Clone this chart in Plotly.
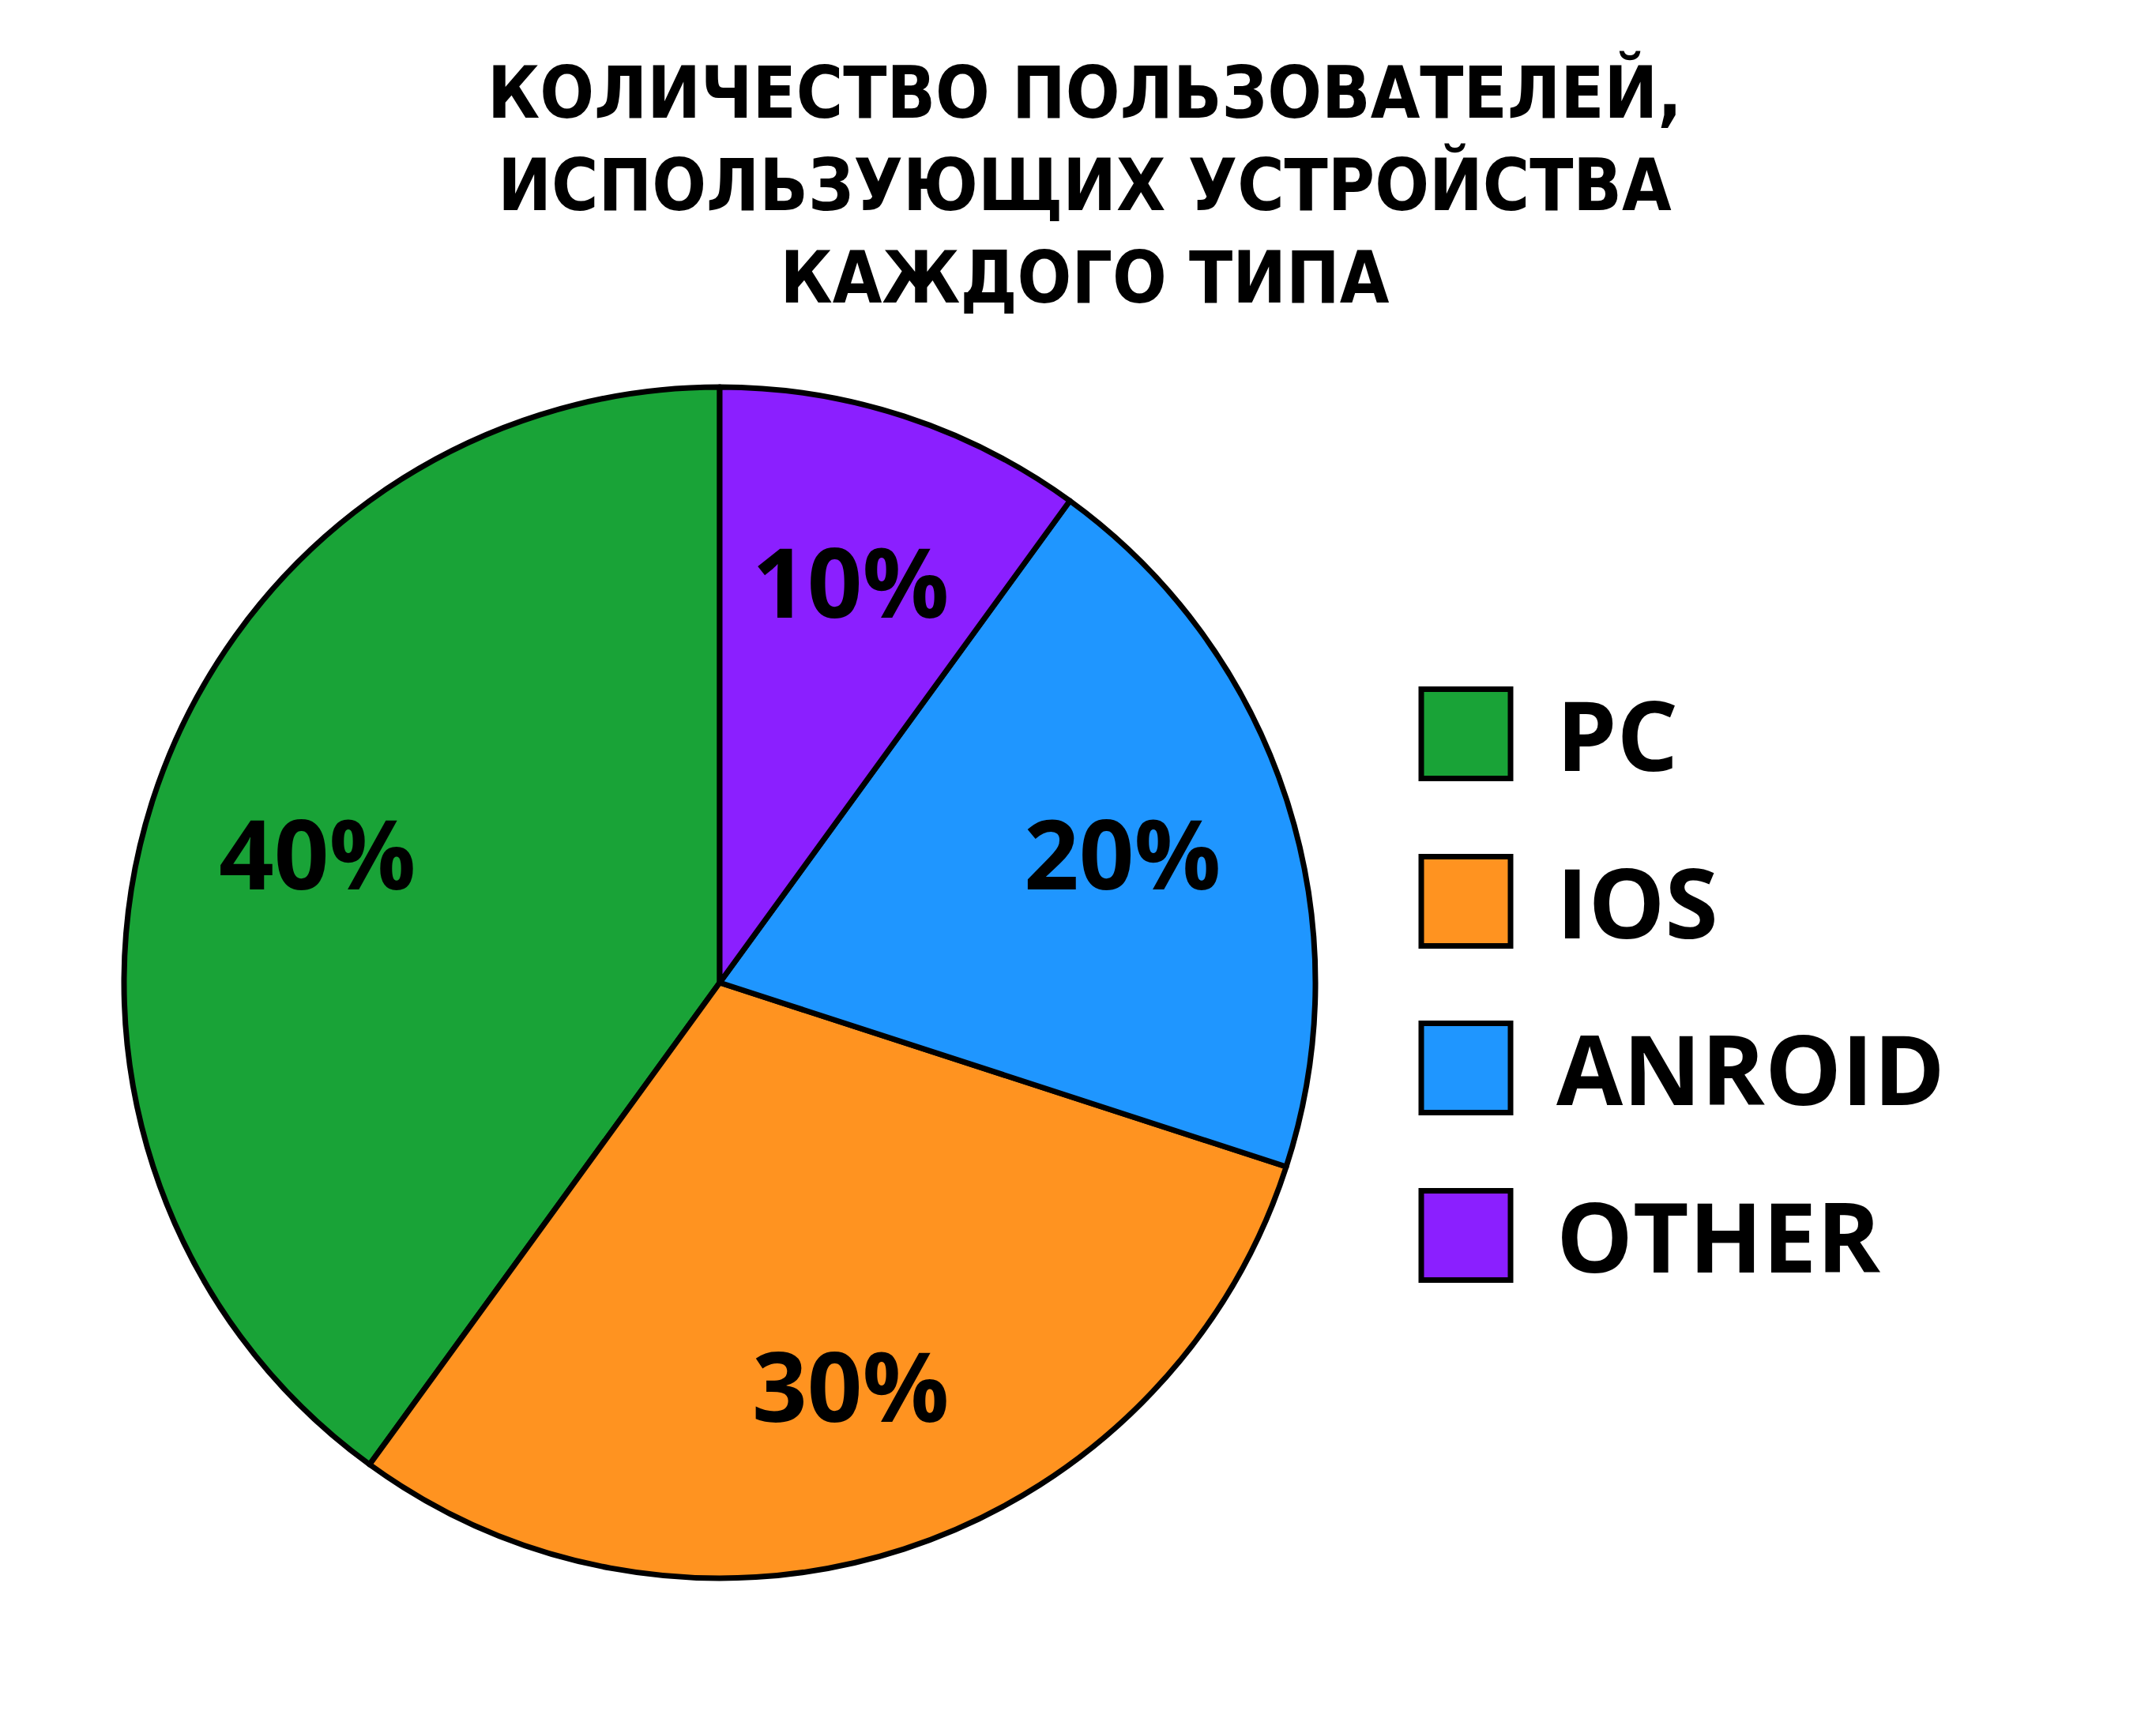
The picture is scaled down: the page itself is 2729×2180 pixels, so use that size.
import math
import plotly.graph_objects as go

# ---- data ----
labels = ["PC", "IOS", "ANROID", "OTHER"]
values = [40, 30, 20, 10]
colors = ["#19a337", "#ff9320", "#1f96ff", "#8b1fff"]
title_lines = ["КОЛИЧЕСТВО ПОЛЬЗОВАТЕЛЕЙ,", "ИСПОЛЬЗУЮЩИХ УСТРОЙСТВА", "КАЖДОГО ТИПА"]

W, H = 2729, 2180
# pie geometry (pixels)
cx, cy, R = 903, 1236, 754
dom_x = [(cx - R) / W, (cx + R) / W]
dom_y = [(H - cy - R) / H, (H - cy + R) / H]

LABEL_FONT = dict(family="Open Sans, DejaVu Sans, sans-serif", size=122, color="black", weight=700)

total = sum(values)
# plotly's counterclockwise mode places the first slice clockwise of the start angle;
# rotate so that the first slice starts at 12 o'clock and runs counterclockwise
rotation = -360 * values[0] / total

fig = go.Figure()
fig.add_trace(go.Pie(
    labels=labels, values=values, sort=False,
    direction="counterclockwise", rotation=rotation,
    marker=dict(colors=colors, line=dict(color="black", width=7)),
    textinfo="none", hoverinfo="label+percent",
    domain=dict(x=dom_x, y=dom_y), showlegend=False,
))

# percentage labels placed on each slice's mid-angle (counterclockwise from top)
cum = 0.0
annotations = []
for lab, v in zip(labels, values):
    mid = 90 + 360 * (cum + v / 2) / total
    cum += v
    px = cx + 0.71 * R * math.cos(math.radians(mid))
    py = cy - 0.71 * R * math.sin(math.radians(mid))
    annotations.append(dict(
        x=px / W, y=1 - py / H, xref="paper", yref="paper",
        text=f"{round(100 * v / total)}%", showarrow=False,
        font=LABEL_FONT, xanchor="center", yanchor="middle"))

# custom legend (large squares)
shapes = []
box = 113
leg_x0 = 1791
leg_y = [921, 1133, 1344, 1556]
for lab, col, ly in zip(labels, colors, leg_y):
    shapes.append(dict(
        type="rect", xref="paper", yref="paper",
        x0=leg_x0 / W, x1=(leg_x0 + box) / W,
        y0=1 - (ly + box / 2) / H, y1=1 - (ly - box / 2) / H,
        fillcolor=col, line=dict(color="black", width=7)))
    annotations.append(dict(
        x=1960 / W, y=1 - ly / H, xref="paper", yref="paper",
        text=lab, showarrow=False, font=LABEL_FONT,
        xanchor="left", yanchor="middle"))

# title
annotations.append(dict(
    x=0.5, y=1 - 226 / H, xref="paper", yref="paper",
    text="<br>".join(title_lines), showarrow=False,
    xanchor="center", yanchor="middle", align="center",
    font=dict(family="DejaVu Sans Condensed, sans-serif",
              size=90, color="black", weight=700)))

fig.update_layout(
    width=W, height=H,
    margin=dict(l=0, r=0, t=0, b=0),
    paper_bgcolor="white", plot_bgcolor="white",
    annotations=annotations, shapes=shapes,
)

fig.write_html("out.html")
